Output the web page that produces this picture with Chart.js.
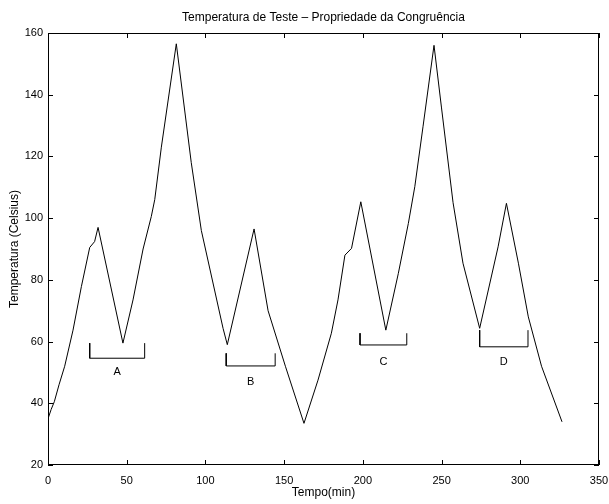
<!DOCTYPE html>
<html>
<head>
<meta charset="utf-8">
<style>
  html, body { margin: 0; padding: 0; background: #fff; }
  #grafico { display: block; }
</style>
<script src="https://cdn.jsdelivr.net/npm/chart.js@4.4.1/dist/chart.umd.min.js"></script>
</head>
<body>
<canvas id="grafico" width="609" height="504"></canvas>
<script>
// tempo (min) e temperatura (Celsius)
var tempos = [0, 2, 4, 7, 10.6, 15.9, 21.2, 26.5, 29.6, 31.8, 47.6, 54, 60.4, 65.6, 67.8, 72, 81.5,
  91, 97.4, 111.2, 113.9, 130.9, 139.8, 150.8, 162.6, 171.5, 180, 184.2, 188.6, 192.8, 198.7,
  214.6, 222.5, 228.9, 233, 238.2, 245.2, 249.9, 257.3, 263.6, 274.2, 285.9, 291.2, 298.8,
  305.1, 313.5, 326.5];
var temperaturas = [35, 38, 40.5, 46, 52, 63.7, 77.8, 90.5, 92.4, 97, 59.5, 73.5, 90, 100.5, 106, 123, 156.5,
  118, 96, 64.3, 59, 96.5, 70, 52, 33.5, 47.5, 62.7, 73.5, 88, 90.2, 105.3,
  63.7, 82, 98.3, 110.2, 129.6, 156, 136, 105, 85.4, 64.3, 90.7, 104.8, 85.4,
  68, 52, 34];

// intervalos marcados A-D
var rotulos = ['A', 'B', 'C', 'D'];
var inicioIntervalo = [26.5, 113.2, 198.2, 274.2];
var fimIntervalo = [61.4, 144.3, 227.9, 304.9];
var topoIntervalo = [59.5, 56.2, 62.7, 63.7];
var baseIntervalo = [54.6, 52.1, 58.9, 58.3];
var alturaRotulo = [50, 47, 53.5, 53.5];

var xTicks = [0, 50, 100, 150, 200, 250, 300, 350];
var yTicks = [20, 40, 60, 80, 100, 120, 140, 160];

var titulo = 'Temperatura de Teste – Propriedade da Congruência';
var fonte = '"Liberation Sans", Arial, Helvetica, sans-serif';

var pontos = tempos.map(function (t, i) { return { x: t, y: temperaturas[i] }; });

var datasets = [{
  data: pontos,
  borderColor: '#000',
  borderWidth: 1,
  pointRadius: 0,
  tension: 0,
  fill: false
}];

rotulos.forEach(function (r, i) {
  datasets.push({
    data: [
      { x: inicioIntervalo[i], y: topoIntervalo[i] },
      { x: inicioIntervalo[i], y: baseIntervalo[i] },
      { x: fimIntervalo[i], y: baseIntervalo[i] },
      { x: fimIntervalo[i], y: topoIntervalo[i] }
    ],
    borderColor: '#000',
    borderWidth: 1,
    pointRadius: 0,
    tension: 0,
    fill: false
  });
});

var caixa = {
  id: 'caixa',
  afterDraw: function (chart) {
    var ctx = chart.ctx, a = chart.chartArea, sx = chart.scales.x, sy = chart.scales.y;
    var tam = 5;
    ctx.save();
    ctx.strokeStyle = '#000';
    ctx.lineWidth = 1;
    ctx.strokeRect(Math.round(a.left) + 0.5, Math.round(a.top) + 0.5,
      Math.round(a.width) - 1, Math.round(a.height) - 1);
    ctx.beginPath();
    xTicks.forEach(function (v) {
      var px = Math.round(sx.getPixelForValue(v)) + 0.5;
      ctx.moveTo(px, a.bottom); ctx.lineTo(px, a.bottom - tam);
      ctx.moveTo(px, a.top); ctx.lineTo(px, a.top + tam);
    });
    yTicks.forEach(function (v) {
      var py = Math.round(sy.getPixelForValue(v)) + 0.5;
      ctx.moveTo(a.left, py); ctx.lineTo(a.left + tam, py);
      ctx.moveTo(a.right, py); ctx.lineTo(a.right - tam, py);
    });
    ctx.stroke();

    ctx.fillStyle = '#000';
    ctx.font = '11px ' + fonte;
    ctx.textAlign = 'center';
    ctx.textBaseline = 'middle';
    rotulos.forEach(function (r, i) {
      var meio = (inicioIntervalo[i] + fimIntervalo[i]) / 2;
      ctx.fillText(r, sx.getPixelForValue(meio), sy.getPixelForValue(alturaRotulo[i]));
    });

    ctx.font = '12px ' + fonte;
    ctx.fillText(titulo, (a.left + a.right) / 2, 18);
    ctx.restore();
  }
};

new Chart(document.getElementById('grafico'), {
  type: 'line',
  data: { datasets: datasets },
  plugins: [caixa],
  options: {
    responsive: false,
    animation: false,
    events: [],
    layout: { padding: { top: 33, right: 10, left: 0, bottom: 0 } },
    plugins: { legend: { display: false }, tooltip: { enabled: false }, title: { display: false } },
    scales: {
      x: {
        type: 'linear',
        min: 0,
        max: 350,
        afterFit: function (s) { s.height = 39; s.paddingLeft = 0; s.paddingRight = 0; },
        afterBuildTicks: function (s) { s.ticks = xTicks.map(function (v) { return { value: v }; }); },
        grid: { display: false, drawTicks: false },
        border: { display: false },
        ticks: { color: '#000', font: { family: fonte, size: 11 }, padding: 9, maxRotation: 0 },
        title: { display: true, text: 'Tempo(min)', color: '#000', font: { family: fonte, size: 12 }, padding: { top: 0, bottom: 4 } }
      },
      y: {
        type: 'linear',
        min: 20,
        max: 160,
        afterFit: function (s) { s.width = 48; s.paddingTop = 0; s.paddingBottom = 0; },
        afterBuildTicks: function (s) { s.ticks = yTicks.map(function (v) { return { value: v }; }); },
        grid: { display: false, drawTicks: false },
        border: { display: false },
        ticks: { color: '#000', font: { family: fonte, size: 11 }, padding: 5 },
        title: { display: true, text: 'Temperatura (Celsius)', color: '#000', font: { family: fonte, size: 12 }, padding: { top: 7, bottom: 0 } }
      }
    }
  }
});
</script>
</body>
</html>
